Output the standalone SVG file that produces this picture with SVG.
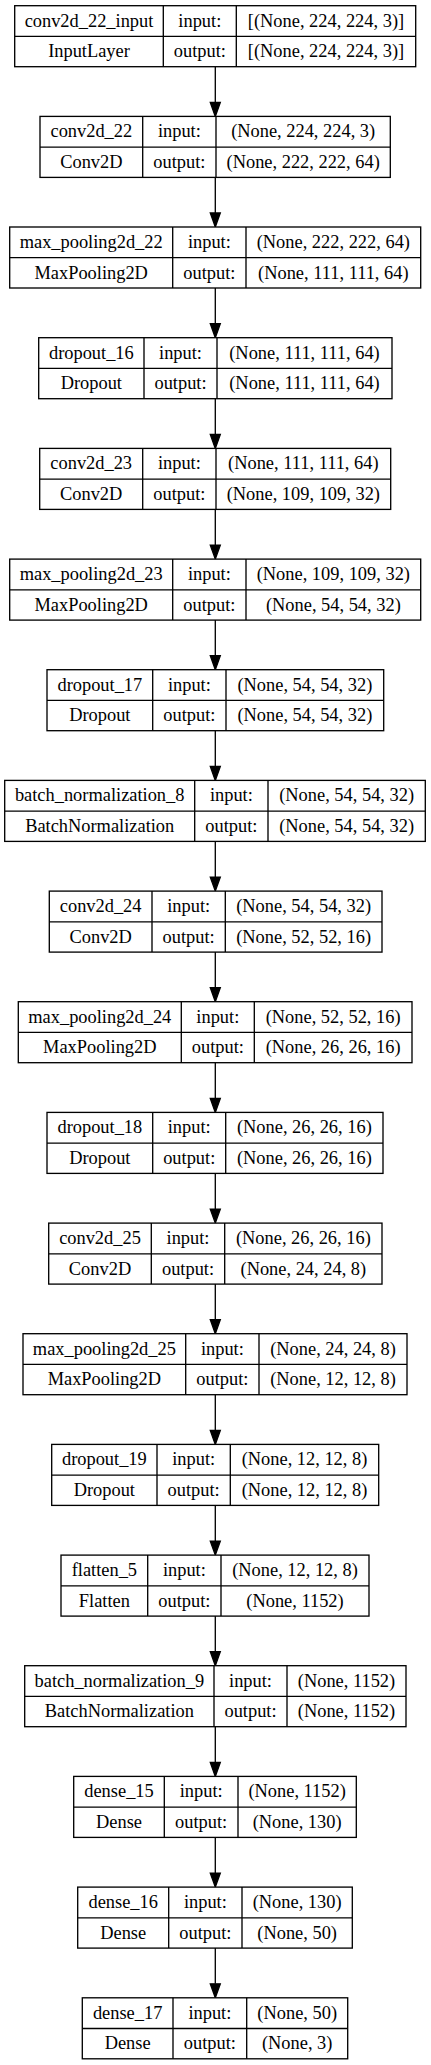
<svg xmlns="http://www.w3.org/2000/svg" width="431" height="2065" viewBox="0 0 431 2065">
<style>
.b{fill:#fff;stroke:#000;stroke-width:1.33}
.l{stroke:#000;stroke-width:1.33;fill:none}
.t text{font-family:'Liberation Serif','Times New Roman',Times,serif;font-size:18.4px;fill:#000;text-anchor:middle}
</style>
<rect width="431" height="2065" fill="#fff"/>
<g id="connectors">
<g class="l">
<line x1="215.3" y1="66.7" x2="215.3" y2="102.4"/>
<line x1="215.3" y1="177.4" x2="215.3" y2="213"/>
<line x1="215.3" y1="288" x2="215.3" y2="323.7"/>
<line x1="215.3" y1="398.7" x2="215.3" y2="434.4"/>
<line x1="215.3" y1="509.4" x2="215.3" y2="545.1"/>
<line x1="215.3" y1="620.1" x2="215.3" y2="655.7"/>
<line x1="215.3" y1="730.7" x2="215.3" y2="766.4"/>
<line x1="215.3" y1="841.4" x2="215.3" y2="877.1"/>
<line x1="215.3" y1="952.1" x2="215.3" y2="987.7"/>
<line x1="215.3" y1="1062.7" x2="215.3" y2="1098.4"/>
<line x1="215.3" y1="1173.4" x2="215.3" y2="1209.1"/>
<line x1="215.3" y1="1284.1" x2="215.3" y2="1319.7"/>
<line x1="215.3" y1="1394.7" x2="215.3" y2="1430.4"/>
<line x1="215.3" y1="1505.4" x2="215.3" y2="1541.1"/>
<line x1="215.3" y1="1616.1" x2="215.3" y2="1651.7"/>
<line x1="215.3" y1="1726.7" x2="215.3" y2="1762.4"/>
<line x1="215.3" y1="1837.4" x2="215.3" y2="1873.1"/>
<line x1="215.3" y1="1948.1" x2="215.3" y2="1983.8"/>
</g>
<g fill="#000" stroke="#000" stroke-width="1.33">
<polygon points="210.3,102.4 220.3,102.4 215.3,116.4"/>
<polygon points="210.3,213 220.3,213 215.3,227"/>
<polygon points="210.3,323.7 220.3,323.7 215.3,337.7"/>
<polygon points="210.3,434.4 220.3,434.4 215.3,448.4"/>
<polygon points="210.3,545.1 220.3,545.1 215.3,559.1"/>
<polygon points="210.3,655.7 220.3,655.7 215.3,669.7"/>
<polygon points="210.3,766.4 220.3,766.4 215.3,780.4"/>
<polygon points="210.3,877.1 220.3,877.1 215.3,891.1"/>
<polygon points="210.3,987.7 220.3,987.7 215.3,1001.7"/>
<polygon points="210.3,1098.4 220.3,1098.4 215.3,1112.4"/>
<polygon points="210.3,1209.1 220.3,1209.1 215.3,1223.1"/>
<polygon points="210.3,1319.7 220.3,1319.7 215.3,1333.7"/>
<polygon points="210.3,1430.4 220.3,1430.4 215.3,1444.4"/>
<polygon points="210.3,1541.1 220.3,1541.1 215.3,1555.1"/>
<polygon points="210.3,1651.7 220.3,1651.7 215.3,1665.7"/>
<polygon points="210.3,1762.4 220.3,1762.4 215.3,1776.4"/>
<polygon points="210.3,1873.1 220.3,1873.1 215.3,1887.1"/>
<polygon points="210.3,1983.8 220.3,1983.8 215.3,1997.8"/>
</g>
</g>
<g class="t" font-family="Liberation Serif, serif">

<g id="conv2d_22_input" transform="translate(0,5.7)">
<rect class="b" x="14.7" y="0" width="401" height="61"/>
<path class="l" d="M14.7,30.7H415.7M163.3,0V61M236.3,0V61"/>
<text x="89" y="21">conv2d_22_input</text><text x="199.8" y="21">input:</text><text x="326" y="21">[(None, 224, 224, 3)]</text>
<text x="89" y="51.7">InputLayer</text><text x="199.8" y="51.7">output:</text><text x="326" y="51.7">[(None, 224, 224, 3)]</text>
</g>

<g id="conv2d_22" transform="translate(0,116.4)">
<rect class="b" x="40" y="0" width="350.3" height="61"/>
<path class="l" d="M40,30.7H390.3M142.7,0V61M216,0V61"/>
<text x="91.35" y="21">conv2d_22</text><text x="179.35" y="21">input:</text><text x="303.15" y="21">(None, 224, 224, 3)</text>
<text x="91.35" y="51.7">Conv2D</text><text x="179.35" y="51.7">output:</text><text x="303.15" y="51.7">(None, 222, 222, 64)</text>
</g>

<g id="max_pooling2d_22" transform="translate(0,227)">
<rect class="b" x="9.7" y="0" width="411" height="61"/>
<path class="l" d="M9.7,30.7H420.7M172.7,0V61M246,0V61"/>
<text x="91.2" y="21">max_pooling2d_22</text><text x="209.35" y="21">input:</text><text x="333.35" y="21">(None, 222, 222, 64)</text>
<text x="91.2" y="51.7">MaxPooling2D</text><text x="209.35" y="51.7">output:</text><text x="333.35" y="51.7">(None, 111, 111, 64)</text>
</g>

<g id="dropout_16" transform="translate(0,337.7)">
<rect class="b" x="38.7" y="0" width="353.3" height="61"/>
<path class="l" d="M38.7,30.7H392M144,0V61M217,0V61"/>
<text x="91.35" y="21">dropout_16</text><text x="180.5" y="21">input:</text><text x="304.5" y="21">(None, 111, 111, 64)</text>
<text x="91.35" y="51.7">Dropout</text><text x="180.5" y="51.7">output:</text><text x="304.5" y="51.7">(None, 111, 111, 64)</text>
</g>

<g id="conv2d_23" transform="translate(0,448.4)">
<rect class="b" x="39.7" y="0" width="351" height="61"/>
<path class="l" d="M39.7,30.7H390.7M142.7,0V61M216,0V61"/>
<text x="91.2" y="21">conv2d_23</text><text x="179.35" y="21">input:</text><text x="303.35" y="21">(None, 111, 111, 64)</text>
<text x="91.2" y="51.7">Conv2D</text><text x="179.35" y="51.7">output:</text><text x="303.35" y="51.7">(None, 109, 109, 32)</text>
</g>

<g id="max_pooling2d_23" transform="translate(0,559.1)">
<rect class="b" x="9.7" y="0" width="411" height="61"/>
<path class="l" d="M9.7,30.7H420.7M172.7,0V61M246,0V61"/>
<text x="91.2" y="21">max_pooling2d_23</text><text x="209.35" y="21">input:</text><text x="333.35" y="21">(None, 109, 109, 32)</text>
<text x="91.2" y="51.7">MaxPooling2D</text><text x="209.35" y="51.7">output:</text><text x="333.35" y="51.7">(None, 54, 54, 32)</text>
</g>

<g id="dropout_17" transform="translate(0,669.7)">
<rect class="b" x="47" y="0" width="336.7" height="61"/>
<path class="l" d="M47,30.7H383.7M152.7,0V61M226,0V61"/>
<text x="99.85" y="21">dropout_17</text><text x="189.35" y="21">input:</text><text x="304.85" y="21">(None, 54, 54, 32)</text>
<text x="99.85" y="51.7">Dropout</text><text x="189.35" y="51.7">output:</text><text x="304.85" y="51.7">(None, 54, 54, 32)</text>
</g>

<g id="batch_normalization_8" transform="translate(0,780.4)">
<rect class="b" x="4.7" y="0" width="420.6" height="61"/>
<path class="l" d="M4.7,30.7H425.3M194.7,0V61M268,0V61"/>
<text x="99.7" y="21">batch_normalization_8</text><text x="231.35" y="21">input:</text><text x="346.65" y="21">(None, 54, 54, 32)</text>
<text x="99.7" y="51.7">BatchNormalization</text><text x="231.35" y="51.7">output:</text><text x="346.65" y="51.7">(None, 54, 54, 32)</text>
</g>

<g id="conv2d_24" transform="translate(0,891.1)">
<rect class="b" x="49.3" y="0" width="332.7" height="61"/>
<path class="l" d="M49.3,30.7H382M152,0V61M225.3,0V61"/>
<text x="100.65" y="21">conv2d_24</text><text x="188.65" y="21">input:</text><text x="303.65" y="21">(None, 54, 54, 32)</text>
<text x="100.65" y="51.7">Conv2D</text><text x="188.65" y="51.7">output:</text><text x="303.65" y="51.7">(None, 52, 52, 16)</text>
</g>

<g id="max_pooling2d_24" transform="translate(0,1001.7)">
<rect class="b" x="18.3" y="0" width="393.7" height="61"/>
<path class="l" d="M18.3,30.7H412M181.3,0V61M254.3,0V61"/>
<text x="99.8" y="21">max_pooling2d_24</text><text x="217.8" y="21">input:</text><text x="333.15" y="21">(None, 52, 52, 16)</text>
<text x="99.8" y="51.7">MaxPooling2D</text><text x="217.8" y="51.7">output:</text><text x="333.15" y="51.7">(None, 26, 26, 16)</text>
</g>

<g id="dropout_18" transform="translate(0,1112.4)">
<rect class="b" x="47" y="0" width="336" height="61"/>
<path class="l" d="M47,30.7H383M152.7,0V61M225.7,0V61"/>
<text x="99.85" y="21">dropout_18</text><text x="189.2" y="21">input:</text><text x="304.35" y="21">(None, 26, 26, 16)</text>
<text x="99.85" y="51.7">Dropout</text><text x="189.2" y="51.7">output:</text><text x="304.35" y="51.7">(None, 26, 26, 16)</text>
</g>

<g id="conv2d_25" transform="translate(0,1223.1)">
<rect class="b" x="48.7" y="0" width="333.3" height="61"/>
<path class="l" d="M48.7,30.7H382M151.3,0V61M224.7,0V61"/>
<text x="100" y="21">conv2d_25</text><text x="188" y="21">input:</text><text x="303.35" y="21">(None, 26, 26, 16)</text>
<text x="100" y="51.7">Conv2D</text><text x="188" y="51.7">output:</text><text x="303.35" y="51.7">(None, 24, 24, 8)</text>
</g>

<g id="max_pooling2d_25" transform="translate(0,1333.7)">
<rect class="b" x="23" y="0" width="384" height="61"/>
<path class="l" d="M23,30.7H407M185.7,0V61M259,0V61"/>
<text x="104.35" y="21">max_pooling2d_25</text><text x="222.35" y="21">input:</text><text x="333" y="21">(None, 24, 24, 8)</text>
<text x="104.35" y="51.7">MaxPooling2D</text><text x="222.35" y="51.7">output:</text><text x="333" y="51.7">(None, 12, 12, 8)</text>
</g>

<g id="dropout_19" transform="translate(0,1444.4)">
<rect class="b" x="51.7" y="0" width="327" height="61"/>
<path class="l" d="M51.7,30.7H378.7M157,0V61M230.3,0V61"/>
<text x="104.35" y="21">dropout_19</text><text x="193.65" y="21">input:</text><text x="304.5" y="21">(None, 12, 12, 8)</text>
<text x="104.35" y="51.7">Dropout</text><text x="193.65" y="51.7">output:</text><text x="304.5" y="51.7">(None, 12, 12, 8)</text>
</g>

<g id="flatten_5" transform="translate(0,1555.1)">
<rect class="b" x="61" y="0" width="308" height="61"/>
<path class="l" d="M61,30.7H369M147.7,0V61M221,0V61"/>
<text x="104.35" y="21">flatten_5</text><text x="184.35" y="21">input:</text><text x="295" y="21">(None, 12, 12, 8)</text>
<text x="104.35" y="51.7">Flatten</text><text x="184.35" y="51.7">output:</text><text x="295" y="51.7">(None, 1152)</text>
</g>

<g id="batch_normalization_9" transform="translate(0,1665.7)">
<rect class="b" x="24.7" y="0" width="381.3" height="61"/>
<path class="l" d="M24.7,30.7H406M214,0V61M287,0V61"/>
<text x="119.35" y="21">batch_normalization_9</text><text x="250.5" y="21">input:</text><text x="346.5" y="21">(None, 1152)</text>
<text x="119.35" y="51.7">BatchNormalization</text><text x="250.5" y="51.7">output:</text><text x="346.5" y="51.7">(None, 1152)</text>
</g>

<g id="dense_15" transform="translate(0,1776.4)">
<rect class="b" x="73.7" y="0" width="282.6" height="61"/>
<path class="l" d="M73.7,30.7H356.3M164.3,0V61M238,0V61"/>
<text x="119" y="21">dense_15</text><text x="201.15" y="21">input:</text><text x="297.15" y="21">(None, 1152)</text>
<text x="119" y="51.7">Dense</text><text x="201.15" y="51.7">output:</text><text x="297.15" y="51.7">(None, 130)</text>
</g>

<g id="dense_16" transform="translate(0,1887.1)">
<rect class="b" x="77.7" y="0" width="274.6" height="61"/>
<path class="l" d="M77.7,30.7H352.3M168.7,0V61M242,0V61"/>
<text x="123.2" y="21">dense_16</text><text x="205.35" y="21">input:</text><text x="297.15" y="21">(None, 130)</text>
<text x="123.2" y="51.7">Dense</text><text x="205.35" y="51.7">output:</text><text x="297.15" y="51.7">(None, 50)</text>
</g>

<g id="dense_17" transform="translate(0,1997.8)">
<rect class="b" x="82.3" y="0" width="265.4" height="61"/>
<path class="l" d="M82.3,30.7H347.7M173,0V61M246.7,0V61"/>
<text x="127.65" y="21">dense_17</text><text x="209.85" y="21">input:</text><text x="297.2" y="21">(None, 50)</text>
<text x="127.65" y="51.7">Dense</text><text x="209.85" y="51.7">output:</text><text x="297.2" y="51.7">(None, 3)</text>
</g>
</g>
</svg>
